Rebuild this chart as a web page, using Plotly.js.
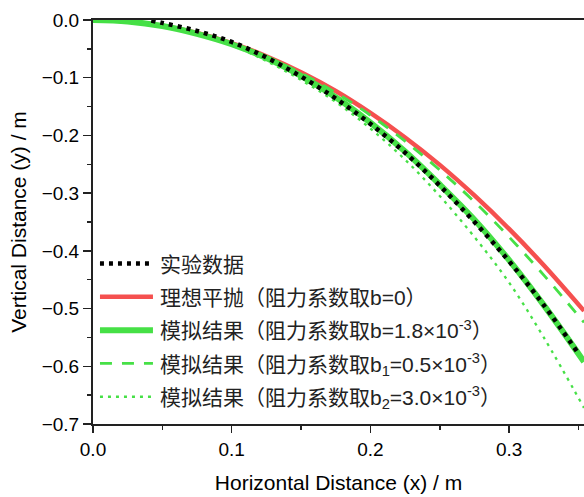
<!DOCTYPE html>
<html>
<head>
<meta charset="utf-8">
<script src="https://cdn.plot.ly/plotly-3.0.1.min.js"></script>
<style>html,body{margin:0;padding:0;overflow:hidden;background:#fff}</style>
</head>
<body>
<div id="chart" style="width:584px;height:497px"></div>
<script>
// Simulated curves sampled along x (m)
var xSim = [0, 0.025, 0.05, 0.075, 0.1, 0.125, 0.15, 0.175, 0.2, 0.225, 0.25, 0.275, 0.3, 0.325, 0.354];
var yIdeal = [0, -0.0025, -0.010, -0.0226, -0.0402, -0.0628, -0.0905, -0.123, -0.161, -0.2035, -0.251, -0.304, -0.362, -0.425, -0.504];
var ySimB  = [0, -0.0026, -0.0105, -0.024, -0.042, -0.066, -0.097, -0.134, -0.178, -0.228, -0.285, -0.346, -0.416, -0.494, -0.592];
var ySimB1 = [0, -0.0025, -0.0100, -0.0226, -0.0405, -0.0635, -0.092, -0.126, -0.165, -0.210, -0.260, -0.315, -0.376, -0.442, -0.524];
var ySimB2 = [0, -0.0027, -0.011, -0.025, -0.044, -0.071, -0.104, -0.142, -0.188, -0.242, -0.305, -0.376, -0.455, -0.550, -0.672];
// Experimental data
var xExp = [0.042, 0.05, 0.075, 0.1, 0.125, 0.15, 0.175, 0.2, 0.225, 0.25, 0.275, 0.3, 0.325, 0.35];
var yExp = [-0.001, -0.005, -0.019, -0.038, -0.065, -0.098, -0.136, -0.180, -0.230, -0.287, -0.350, -0.418, -0.494, -0.578];

var names = [
  '实验数据',
  '理想平抛（阻力系数取b=0）',
  '模拟结果（阻力系数取b=1.8×10<sup>-3</sup>）',
  '模拟结果（阻力系数取b<sub>1</sub>=0.5×10<sup>-3</sup>）',
  '模拟结果（阻力系数取b<sub>2</sub>=3.0×10<sup>-3</sup>）'
];

var RED = '#F5504F', GREEN = '#46E046';

var traces = [
  {x: xSim, y: yIdeal, name: names[1], legendrank: 2, legendgroup: 'g2', mode: 'lines', line: {color: RED, width: 4.5, shape: 'spline'}},
  {x: xSim, y: ySimB, name: names[2], legendrank: 3, legendgroup: 'g3', mode: 'lines', line: {color: GREEN, width: 6, shape: 'spline'}},
  {x: xSim, y: ySimB1, name: names[3], legendrank: 4, legendgroup: 'g4', mode: 'lines', line: {color: GREEN, width: 2.8, dash: '12px,10px', shape: 'spline'}},
  {x: xSim, y: ySimB2, name: names[4], legendrank: 5, legendgroup: 'g5', mode: 'lines', line: {color: GREEN, width: 2.3, dash: '3px,5px', shape: 'spline'}},
  {x: xExp, y: yExp, name: names[0], legendrank: 1, legendgroup: 'g1', mode: 'lines', line: {color: '#000', width: 4.5, dash: '4px,5px', shape: 'spline'}}
];

var font = 'Liberation Sans, Arial, Noto Sans CJK SC, sans-serif';
var layout = {
  width: 584, height: 497,
  margin: {l: 93, r: 0, t: 20, b: 73},
  paper_bgcolor: '#fff', plot_bgcolor: '#fff',
  font: {family: font, color: '#000', size: 19},
  showlegend: true,
  legend: {
    x: 0.004, y: 0.447, xanchor: 'left', yanchor: 'top',
    bgcolor: 'rgba(0,0,0,0)', borderwidth: 0,
    font: {family: 'Liberation Sans, Noto Sans CJK SC, sans-serif', size: 21, color: '#222'},
    itemwidth: 55, tracegroupgap: 3, traceorder: 'grouped'
  },
  xaxis: {
    range: [0, 0.354], dtick: 0.1, tick0: 0, tickformat: '.1f',
    showline: true, linecolor: '#222', linewidth: 2, mirror: true,
    ticks: 'outside', ticklen: 7, tickwidth: 1.5, tickcolor: '#222',
    minor: {dtick: 0.05, ticks: 'outside', ticklen: 4, tickwidth: 1.5, tickcolor: '#222'},
    showgrid: false, zeroline: false,
    tickfont: {size: 19},
    title: {text: 'Horizontal Distance (x) / m', font: {size: 21}, standoff: 17}
  },
  yaxis: {
    range: [-0.7, 0], dtick: 0.1, tick0: 0, tickformat: '.1f',
    showline: true, linecolor: '#222', linewidth: 2,
    ticks: 'outside', ticklen: 8, tickwidth: 1.5, tickcolor: '#222',
    minor: {dtick: 0.05, ticks: 'outside', ticklen: 4, tickwidth: 1.5, tickcolor: '#222'},
    showgrid: false, zeroline: false,
    tickfont: {size: 19},
    title: {text: 'Vertical Distance (y) / m', font: {size: 21}, standoff: 9}
  }
};

Plotly.newPlot('chart', traces, layout, {displayModeBar: false, staticPlot: true}).then(function () {
  document.querySelectorAll('.legend .traces path.js-line').forEach(function (p) {
    p.setAttribute('d', 'M5,0h53');
  });
});
</script>
</body>
</html>
